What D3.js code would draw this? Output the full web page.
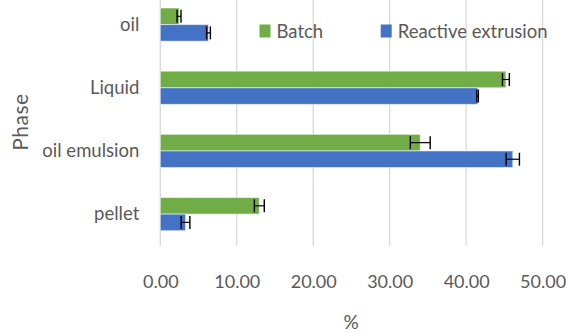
<!DOCTYPE html>
<html>
<head>
<meta charset="utf-8">
<script src="https://cdn.jsdelivr.net/npm/d3@7"></script>
<style>
  html, body { margin: 0; padding: 0; background: #fff; }
  svg { display: block; }
  text { font-family: Lato, "Open Sans", sans-serif; fill: #595959; }
</style>
</head>
<body>
<svg id="chart" width="568" height="333"></svg>
<script>
// Phase distribution (%) for batch vs reactive extrusion processing
const categories = ["oil", "Liquid", "oil emulsion", "pellet"];
const seriesNames = ["Batch", "Reactive extrusion"];
const batchValues = [2.45, 45.2, 34.0, 12.95];
const batchErrors = [0.26, 0.45, 1.3, 0.65];
const extrusionValues = [6.3, 41.5, 46.1, 3.3];
const extrusionErrors = [0.25, 0.1, 0.87, 0.57];
const xTicks = [0, 10, 20, 30, 40, 50];
const colors = ["#70AD47", "#4472C4"];

const svg = d3.select("#chart");
const plot = { left: 160.3, right: 542.6, top: -7, bottom: 245.7 };

const x = d3.scaleLinear().domain([0, 50]).range([plot.left, plot.right]);
const y = d3.scaleBand().domain(categories)
  .range([plot.top, plot.bottom])
  .paddingInner(0.475).paddingOuter(0.2375);
const inner = d3.scaleBand().domain(seriesNames).range([0, y.bandwidth()]);

// vertical gridlines
svg.append("g")
  .selectAll("line")
  .data(xTicks)
  .join("line")
  .attr("x1", d => x(d)).attr("x2", d => x(d))
  .attr("y1", 0).attr("y2", plot.bottom)
  .attr("stroke", "#d9d9d9").attr("stroke-width", 1.3);

// x axis tick labels
const xAxis = d3.axisBottom(x).tickValues(xTicks).tickFormat(d3.format(".2f")).tickSize(0).tickPadding(0);
const gx = svg.append("g").attr("transform", `translate(0,${plot.bottom})`).call(xAxis);
gx.select(".domain").remove();
gx.selectAll("text")
  .attr("y", 36).attr("dy", "0.35em")
  .style("font-size", "18px").attr("fill", "#595959");

// y axis category labels
const yAxis = d3.axisLeft(y).tickSize(0).tickPadding(0);
const gy = svg.append("g").attr("transform", `translate(${plot.left - 21},0)`).call(yAxis);
gy.select(".domain").remove();
gy.selectAll("text").style("font-size", "18.5px").attr("fill", "#595959");

const rows = categories.map((c, i) => ({
  cat: c,
  series: [
    { name: seriesNames[0], value: batchValues[i], err: batchErrors[i], color: colors[0] },
    { name: seriesNames[1], value: extrusionValues[i], err: extrusionErrors[i], color: colors[1] }
  ]
}));

const groups = svg.append("g").selectAll("g")
  .data(rows).join("g")
  .attr("transform", d => `translate(0,${y(d.cat)})`);

groups.selectAll("rect")
  .data(d => d.series).join("rect")
  .attr("x", x(0))
  .attr("y", d => inner(d.name))
  .attr("width", d => x(d.value) - x(0))
  .attr("height", inner.bandwidth())
  .attr("fill", d => d.color)
  .attr("stroke", "rgba(255,255,255,0.55)")
  .attr("stroke-width", 1);

// error bars
const capH = 13;
const eb = groups.selectAll("g.err")
  .data(d => d.series).join("g").attr("class", "err")
  .attr("transform", d => `translate(0,${inner(d.name) + inner.bandwidth() / 2})`);
eb.append("line")
  .attr("x1", d => x(d.value - d.err)).attr("x2", d => x(d.value + d.err))
  .attr("y1", 0).attr("y2", 0)
  .attr("stroke", "#000").attr("stroke-width", 1.2);
eb.append("line")
  .attr("x1", d => x(d.value - d.err)).attr("x2", d => x(d.value - d.err))
  .attr("y1", -capH / 2).attr("y2", capH / 2)
  .attr("stroke", "#000").attr("stroke-width", 1.4);
eb.append("line")
  .attr("x1", d => x(d.value + d.err)).attr("x2", d => x(d.value + d.err))
  .attr("y1", -capH / 2).attr("y2", capH / 2)
  .attr("stroke", "#000").attr("stroke-width", 1.4);

// axis titles
svg.append("text")
  .attr("x", 351).attr("y", 322).attr("dy", "0.35em")
  .attr("text-anchor", "middle").style("font-size", "19px")
  .text("%");
svg.append("text")
  .attr("transform", "translate(28,122) rotate(-90)")
  .attr("text-anchor", "middle")
  .style("font-size", "21px")
  .style("letter-spacing", "0.5px")
  .text("Phase");

// legend
const legendX = [259.5, 380.7];
const legend = svg.append("g").selectAll("g")
  .data(seriesNames).join("g")
  .attr("transform", (d, i) => `translate(${legendX[i]},31.5)`);
legend.append("rect")
  .attr("x", 0).attr("y", -7).attr("width", 11).attr("height", 13)
  .attr("fill", (d, i) => colors[i]);
legend.append("text")
  .attr("x", 17).attr("dy", "0.35em")
  .style("font-size", "18.5px")
  .text(d => d);
</script>
</body>
</html>
